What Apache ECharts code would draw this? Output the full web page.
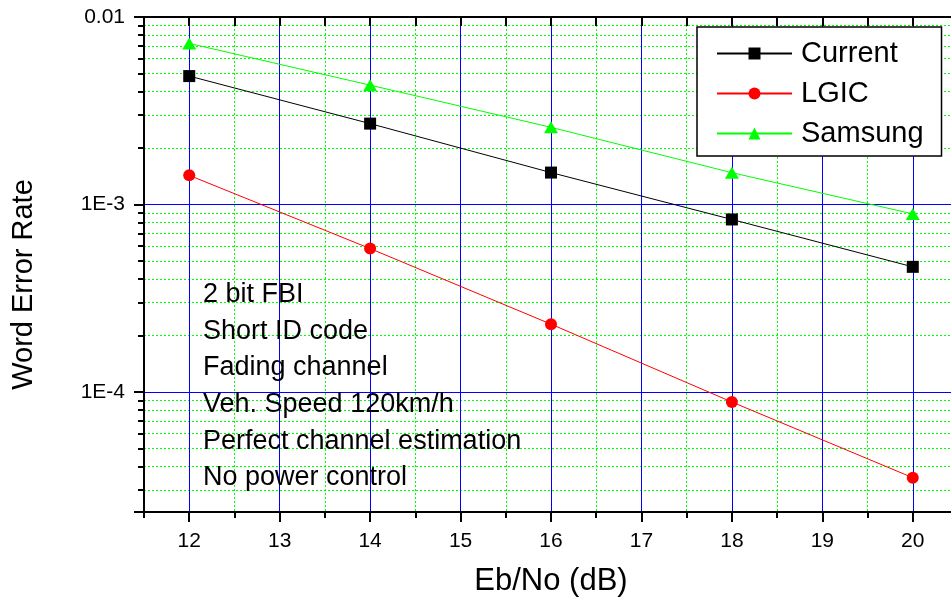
<!DOCTYPE html>
<html><head><meta charset="utf-8">
<script src="https://cdn.jsdelivr.net/npm/echarts@6/dist/echarts.min.js"></script>
<style>html,body{margin:0;padding:0;background:#fff;overflow:hidden}#c{width:970px;height:605px}</style>
</head><body><div id="c"></div>
<script>
const ebNo = [12, 14, 16, 18, 20];
const currentWER = [4.84e-3, 2.70e-3, 1.48e-3, 8.32e-4, 4.65e-4];
const lgicWER = [1.43e-3, 5.82e-4, 2.30e-4, 8.84e-5, 3.49e-5];
const samsungWER = [7.23e-3, 4.33e-3, 2.58e-3, 1.478e-3, 8.91e-4];
const seriesNames = ['Current', 'LGIC', 'Samsung'];
const yTickLabels = { '-2': '0.01', '-3': '1E-3', '-4': '1E-4' };
const notes = ['2 bit FBI', 'Short ID code', 'Fading channel', 'Veh. Speed 120km/h', 'Perfect channel estimation', 'No power control'];
const xTitle = 'Eb/No (dB)';
const yTitle = 'Word Error Rate';

const FONT = '"Liberation Sans", Arial, sans-serif';
const chart = echarts.init(document.getElementById('c'), null, { renderer: 'canvas' });

function pairs(vals) { return ebNo.map((x, i) => [x, vals[i]]); }

// outer frame spans 11.5 .. 20.5 (its right edge lies just outside the 951px view);
// inner grid spans 12 .. 20 exactly
const L = 144, R = 958, T = 17, B = 512;
const unit = (R - L) / 9;
const innerLeft = L + unit * 0.5, innerRight = R - unit * 0.5;

const yLog = {
  type: 'log', logBase: 10, min: 2.29e-5, max: 0.01
};

const option = {
  animation: false,
  backgroundColor: '#fff',
  textStyle: { fontFamily: FONT },
  grid: [
    { left: L, top: T, width: R - L, height: B - T, containLabel: false },
    { left: innerLeft, top: T, width: innerRight - innerLeft, height: B - T, containLabel: false }
  ],
  title: {
    text: notes.join('\n'), left: 203, top: 276, padding: 0,
    textStyle: { fontSize: 27, fontWeight: 'normal', lineHeight: 36.7, color: '#000', fontFamily: FONT }
  },
  legend: {
    orient: 'vertical', left: 697, top: 27, padding: [12, 18, 8, 19],
    itemWidth: 75, itemHeight: 15, itemGap: 11,
    backgroundColor: '#fff', borderColor: '#000', borderWidth: 1.5,
    selectedMode: false,
    textStyle: { fontSize: 29, lineHeight: 29, color: '#000', fontFamily: FONT, padding: [0, 0, 0, 4] },
    data: seriesNames
  },
  xAxis: [{
    gridIndex: 0, type: 'value', min: 11.5, max: 20.5, interval: 0.5, position: 'bottom',
    axisLine: { onZero: false, lineStyle: { color: '#000', width: 2 } },
    axisTick: { inside: false, length: 6, lineStyle: { color: '#000', width: 2 } },
    axisLabel: { show: false },
    splitLine: { show: true, lineStyle: { color: ['#00ff00', 'rgba(0,0,0,0)'], width: 1, type: [2, 2] } }
  }, {
    gridIndex: 0, type: 'value', min: 11.5, max: 20.5, interval: 0.5, position: 'top',
    axisLine: { onZero: false, lineStyle: { color: '#000', width: 2 } },
    axisTick: { inside: true, length: 9, lineStyle: { color: '#000', width: 2 } },
    axisLabel: { show: false },
    splitLine: { show: false }
  }, {
    gridIndex: 1, type: 'value', min: 12, max: 20, interval: 1, position: 'bottom',
    axisLine: { show: false, onZero: false },
    axisTick: { show: true, inside: false, length: 10, lineStyle: { color: '#000', width: 2 } },
    axisLabel: { fontSize: 21, color: '#000', margin: 19, fontFamily: FONT },
    splitLine: { show: true, lineStyle: { color: '#0000ff', width: 1 } },
    name: xTitle, nameLocation: 'middle', nameGap: 54,
    nameTextStyle: { fontSize: 31, color: '#000', fontFamily: FONT }
  }],
  yAxis: [Object.assign({}, yLog, {
    gridIndex: 0,
    axisLine: { onZero: false, lineStyle: { color: '#000', width: 2 } },
    axisTick: { inside: false, length: 10, lineStyle: { color: '#000', width: 2 } },
    minorTick: { show: true, splitNumber: 9, length: 6, lineStyle: { color: '#000', width: 2 } },
    axisLabel: { fontSize: 21, color: '#000', margin: 19, fontFamily: FONT,
      formatter: v => { const e = Math.log10(v); const r = Math.round(e); return Math.abs(e - r) < 1e-6 ? (yTickLabels[r] || '') : ''; } },
    splitLine: { show: true, lineStyle: { color: '#0000ff', width: 1 } },
    minorSplitLine: { show: true, lineStyle: { color: '#00ff00', width: 1, type: [2, 2] } },
    name: yTitle, nameLocation: 'middle', nameGap: 106, nameRotate: 90,
    nameTextStyle: { fontSize: 29, color: '#000', fontFamily: FONT, padding: [0, 40, 0, 0] }
  }), Object.assign({}, yLog, { gridIndex: 1, show: false })],
  series: [
    { name: seriesNames[0], type: 'line', xAxisIndex: 0, yAxisIndex: 0, data: pairs(currentWER), symbol: 'rect', symbolSize: 12,
      lineStyle: { color: '#000', width: 1 }, itemStyle: { color: '#000' }, z: 3 },
    { name: seriesNames[1], type: 'line', xAxisIndex: 0, yAxisIndex: 0, data: pairs(lgicWER), symbol: 'circle', symbolSize: 12,
      lineStyle: { color: '#ff0000', width: 1 }, itemStyle: { color: '#ff0000' }, z: 3 },
    { name: seriesNames[2], type: 'line', xAxisIndex: 0, yAxisIndex: 0, data: pairs(samsungWER), symbol: 'triangle', symbolSize: [14, 12],
      lineStyle: { color: '#00ff00', width: 1 }, itemStyle: { color: '#00ff00' }, z: 3 }
  ]
};
chart.setOption(option);
</script></body></html>
